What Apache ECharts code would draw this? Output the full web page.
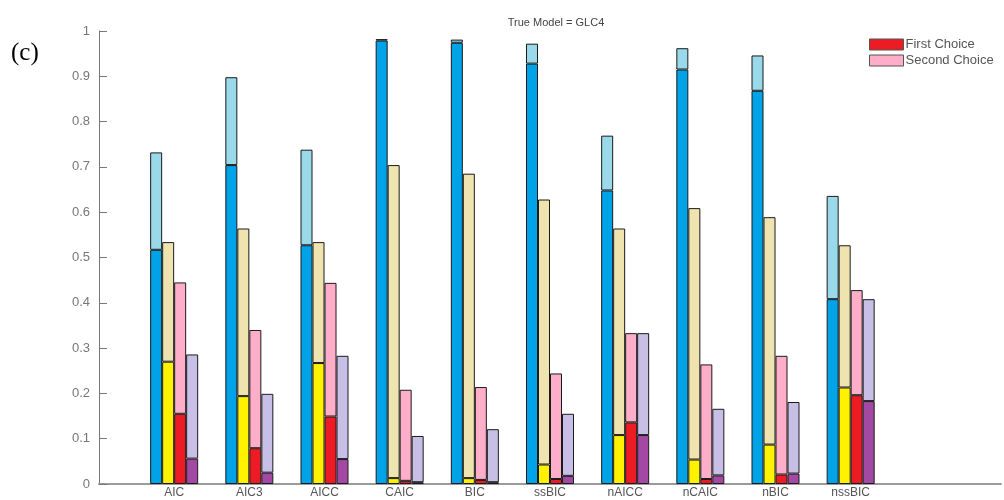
<!DOCTYPE html>
<html>
<head>
<meta charset="utf-8">
<script src="https://cdn.jsdelivr.net/npm/echarts@6/dist/echarts.min.js"></script>
<style>
  html, body { margin: 0; padding: 0; background: #fff; }
  #chart { width: 1004px; height: 500px; }
</style>
</head>
<body>
<div id="chart"></div>
<script>
// criteria on the x axis (blank slots keep the MATLAB-style spacing)
var criteria = ['AIC', 'AIC3', 'AICC', 'CAIC', 'BIC', 'ssBIC', 'nAICC', 'nCAIC', 'nBIC', 'nssBIC']
var yTicks = [0, 0.1, 0.2, 0.3, 0.4, 0.5, 0.6, 0.7, 0.8, 0.9, 1]

// first choice rate and first+second total, per criterion
var blueFirst = [0.517, 0.704, 0.527, 0.979, 0.974, 0.928, 0.648, 0.915, 0.868, 0.408]
var blueTotal = [0.732, 0.898, 0.738, 0.982, 0.981, 0.972, 0.769, 0.962, 0.946, 0.636]
var yellowFirst = [0.270, 0.194, 0.267, 0.013, 0.013, 0.043, 0.108, 0.054, 0.087, 0.213]
var yellowTotal = [0.534, 0.564, 0.534, 0.704, 0.685, 0.628, 0.564, 0.609, 0.589, 0.527]
var redFirst = [0.155, 0.079, 0.149, 0.007, 0.009, 0.011, 0.136, 0.011, 0.021, 0.196]
var redTotal = [0.445, 0.340, 0.444, 0.208, 0.214, 0.244, 0.333, 0.264, 0.283, 0.428]
var purpleFirst = [0.056, 0.025, 0.055, 0.004, 0.004, 0.018, 0.108, 0.019, 0.023, 0.183]
var purpleTotal = [0.286, 0.199, 0.283, 0.106, 0.121, 0.155, 0.333, 0.166, 0.181, 0.408]

var categories = [''].concat(criteria, ['', ''])

function pad(arr) {
  return [null].concat(arr, [null, null])
}
function second(first, total) {
  return total.map(function(t, i) { return +(t - first[i]).toFixed(3) })
}

function bar(name, stack, data, color) {
  return {
    name: name,
    type: 'bar',
    stack: stack,
    data: pad(data),
    barWidth: 12,
    barGap: '0%',
    itemStyle: { color: color, borderColor: '#1a1a1a', borderWidth: 1 },
    animation: false
  }
}

var chart = echarts.init(document.getElementById('chart'))

chart.setOption({
  backgroundColor: '#fff',
  textStyle: { fontFamily: 'Liberation Sans, Arial, sans-serif' },
  title: {
    text: 'True Model = GLC4',
    left: 551,
    top: 12,
    textAlign: 'center',
    textStyle: { fontSize: 11, fontWeight: 'normal', color: '#444' }
  },
  legend: {
    data: ['First Choice', 'Second Choice'],
    orient: 'vertical',
    left: 869,
    top: 38,
    padding: 0,
    icon: 'rect',
    itemWidth: 34,
    itemHeight: 11,
    itemGap: 3,
    itemStyle: { borderColor: '#555', borderWidth: 1 },
    textStyle: { fontSize: 13, color: '#555', padding: [0, 0, 0, -3] }
  },
  graphic: [{
    type: 'text',
    left: 11,
    top: 41,
    style: { text: '(c)', font: '25px "Liberation Serif", serif', fill: '#000' }
  }],
  grid: { left: 99, top: 31, right: 0, bottom: 16 },
  xAxis: {
    type: 'category',
    data: categories,
    boundaryGap: false,
    axisLine: { lineStyle: { color: '#9a9a9a', width: 2 } },
    axisTick: { show: false },
    axisLabel: { interval: 0, fontSize: 12, color: '#555', margin: 3 }
  },
  yAxis: {
    type: 'value',
    min: 0,
    max: 1,
    interval: 0.1,
    splitLine: { show: false },
    axisLine: { show: true, lineStyle: { color: '#777', width: 1 } },
    axisTick: { show: true, inside: true, length: 8, lineStyle: { color: '#777' } },
    axisLabel: {
      fontSize: 13,
      color: '#777',
      margin: 9,
      formatter: function(v) { return String(+v.toFixed(1)) }
    }
  },
  series: [
    bar('blue first', 'b', blueFirst, '#00A2E8'),
    bar('blue second', 'b', second(blueFirst, blueTotal), '#99D9EA'),
    bar('yellow first', 'y', yellowFirst, '#FFF200'),
    bar('yellow second', 'y', second(yellowFirst, yellowTotal), '#EFE4B0'),
    bar('First Choice', 'r', redFirst, '#ED1C24'),
    bar('Second Choice', 'r', second(redFirst, redTotal), '#FFAEC9'),
    bar('purple first', 'p', purpleFirst, '#A349A4'),
    bar('purple second', 'p', second(purpleFirst, purpleTotal), '#C8BFE7')
  ]
})
</script>
</body>
</html>
